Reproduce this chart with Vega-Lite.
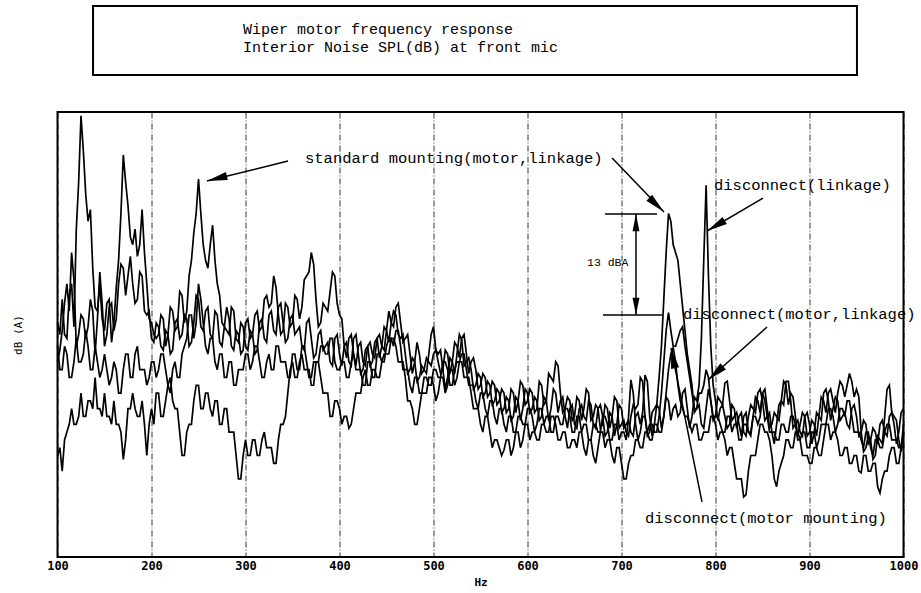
{
  "$schema": "https://vega.github.io/schema/vega-lite/v6.json",
  "width": 846,
  "height": 445,
  "autosize": {"type": "none"},
  "padding": {"left": 57.5, "top": 112, "right": 17.5, "bottom": 36},
  "background": "white",
  "config": {
    "view": {"stroke": "#000", "strokeWidth": 2},
    "font": "Liberation Mono"
  },
  "datasets": {
    "spectra": [
      {"f":100,"A":50,"B":45,"C":47,"D":33},
      {"f":102.5,"A":48.5,"B":46.5,"C":44,"D":34},
      {"f":105,"A":53,"B":49,"C":44,"D":31},
      {"f":107.5,"A":48.5,"B":52.5,"C":47,"D":35},
      {"f":110,"A":48,"B":55,"C":46,"D":36},
      {"f":112.5,"A":53.5,"B":51.5,"C":43,"D":37},
      {"f":115,"A":55,"B":59,"C":43,"D":39},
      {"f":117.5,"A":49.5,"B":55.5,"C":45,"D":37},
      {"f":120,"A":62,"B":47,"C":48,"D":37},
      {"f":122.5,"A":68,"B":48.5,"C":45,"D":38},
      {"f":125,"A":76.5,"B":51,"C":45,"D":41},
      {"f":127.5,"A":72,"B":50.5,"C":46,"D":38},
      {"f":130,"A":66.5,"B":48,"C":49,"D":38},
      {"f":132.5,"A":63,"B":49.5,"C":47,"D":40},
      {"f":135,"A":64.5,"B":53,"C":44,"D":40},
      {"f":137.5,"A":57,"B":51.5,"C":44,"D":39},
      {"f":140,"A":52,"B":46,"C":47,"D":43},
      {"f":142.5,"A":51.5,"B":50.5,"C":45,"D":39},
      {"f":145,"A":55,"B":56.5,"C":43,"D":39},
      {"f":147.5,"A":50.5,"B":52.5,"C":44,"D":38},
      {"f":150,"A":49,"B":47,"C":46,"D":41},
      {"f":152.5,"A":52.5,"B":48.5,"C":44,"D":38},
      {"f":155,"A":53,"B":52,"C":42,"D":38},
      {"f":157.5,"A":47.5,"B":52.5,"C":43,"D":37},
      {"f":160,"A":50,"B":49,"C":45,"D":40},
      {"f":162.5,"A":54.5,"B":50.5,"C":44,"D":37},
      {"f":165,"A":58,"B":55,"C":41,"D":37},
      {"f":167.5,"A":64,"B":57.5,"C":41,"D":36},
      {"f":170,"A":71.5,"B":57,"C":44,"D":32.5},
      {"f":172.5,"A":68,"B":53.5,"C":46,"D":35},
      {"f":175,"A":65,"B":56,"C":46,"D":39},
      {"f":177.5,"A":61,"B":58.5,"C":43,"D":39},
      {"f":180,"A":60,"B":55,"C":43,"D":41},
      {"f":182.5,"A":62,"B":52.5,"C":46,"D":39},
      {"f":185,"A":58.5,"B":53,"C":47,"D":38},
      {"f":187.5,"A":60,"B":56.5,"C":44,"D":38},
      {"f":190,"A":64.5,"B":56,"C":44,"D":40},
      {"f":192.5,"A":59,"B":51.5,"C":44,"D":37},
      {"f":195,"A":55,"B":51,"C":42,"D":33},
      {"f":197.5,"A":50.5,"B":51.5,"C":43,"D":37},
      {"f":200,"A":50,"B":48,"C":45,"D":39},
      {"f":202.5,"A":48.5,"B":47.5,"C":45,"D":37},
      {"f":205,"A":48,"B":50,"C":43,"D":41},
      {"f":207.5,"A":48.5,"B":49.5,"C":44,"D":41},
      {"f":210,"A":51,"B":47,"C":46,"D":38},
      {"f":212.5,"A":50.5,"B":46.5,"C":46,"D":38},
      {"f":215,"A":47,"B":49,"C":44,"D":40},
      {"f":217.5,"A":48.5,"B":48.5,"C":42,"D":42},
      {"f":220,"A":52,"B":46,"C":41,"D":43},
      {"f":222.5,"A":51.5,"B":46.5,"C":44,"D":40},
      {"f":225,"A":49,"B":50,"C":45,"D":39},
      {"f":227.5,"A":49.5,"B":50.5,"C":43,"D":39},
      {"f":230,"A":54,"B":48,"C":43,"D":36},
      {"f":232.5,"A":53.5,"B":48.5,"C":46,"D":33},
      {"f":235,"A":50,"B":51,"C":47,"D":33},
      {"f":237.5,"A":51.5,"B":50.5,"C":48,"D":36},
      {"f":240,"A":56,"B":47,"C":51,"D":37},
      {"f":242.5,"A":58,"B":47.5,"C":51,"D":37},
      {"f":245,"A":61.5,"B":50,"C":48,"D":40},
      {"f":247.5,"A":64,"B":53.5,"C":50,"D":42},
      {"f":250,"A":68.4,"B":53,"C":55,"D":42},
      {"f":252.5,"A":64,"B":49.5,"C":53,"D":39},
      {"f":255,"A":60,"B":49,"C":50,"D":39},
      {"f":257.5,"A":58,"B":51.5,"C":47,"D":41},
      {"f":260,"A":57,"B":52,"C":46,"D":41},
      {"f":262.5,"A":60,"B":48.5,"C":48,"D":39},
      {"f":265,"A":62.5,"B":48,"C":48,"D":38},
      {"f":267.5,"A":58,"B":51.5,"C":45,"D":40},
      {"f":270,"A":55,"B":51,"C":44,"D":40},
      {"f":272.5,"A":53.5,"B":47.5,"C":46,"D":37},
      {"f":275,"A":50,"B":47,"C":46,"D":37},
      {"f":277.5,"A":49.5,"B":49.5,"C":43,"D":39},
      {"f":280,"A":52,"B":49,"C":43,"D":39},
      {"f":282.5,"A":50.5,"B":48.5,"C":45,"D":36},
      {"f":285,"A":47,"B":52,"C":45,"D":36},
      {"f":287.5,"A":46.5,"B":51.5,"C":42,"D":36},
      {"f":290,"A":49,"B":48,"C":42,"D":33},
      {"f":292.5,"A":48.5,"B":47.5,"C":44,"D":30},
      {"f":295,"A":46,"B":50,"C":44,"D":30},
      {"f":297.5,"A":46.5,"B":49.5,"C":44,"D":33},
      {"f":300,"A":50,"B":47,"C":46,"D":35},
      {"f":302.5,"A":50.5,"B":46.5,"C":46,"D":33},
      {"f":305,"A":48,"B":49,"C":44,"D":33},
      {"f":307.5,"A":48.5,"B":48.5,"C":45,"D":35},
      {"f":310,"A":51,"B":46,"C":47,"D":35},
      {"f":312.5,"A":51.5,"B":46.5,"C":47,"D":33},
      {"f":315,"A":49,"B":50,"C":45,"D":33},
      {"f":317.5,"A":49.5,"B":50.5,"C":43,"D":35},
      {"f":320,"A":53,"B":48,"C":43,"D":36},
      {"f":322.5,"A":53.5,"B":47.5,"C":45,"D":34},
      {"f":325,"A":52,"B":51,"C":46,"D":34},
      {"f":327.5,"A":52.5,"B":51.5,"C":44,"D":34},
      {"f":330,"A":56,"B":49,"C":44,"D":32},
      {"f":332.5,"A":54.5,"B":48.5,"C":47,"D":32},
      {"f":335,"A":51,"B":52,"C":47,"D":35},
      {"f":337.5,"A":48.5,"B":52.5,"C":45,"D":37},
      {"f":340,"A":49,"B":50,"C":45,"D":37},
      {"f":342.5,"A":52.5,"B":47.5,"C":45,"D":38},
      {"f":345,"A":52,"B":48,"C":43,"D":41},
      {"f":347.5,"A":49.5,"B":50.5,"C":43,"D":44},
      {"f":350,"A":50,"B":51,"C":46,"D":45},
      {"f":352.5,"A":53.5,"B":48.5,"C":46,"D":43},
      {"f":355,"A":53,"B":49,"C":44,"D":43},
      {"f":357.5,"A":50.5,"B":49.5,"C":44,"D":45},
      {"f":360,"A":52,"B":47,"C":47,"D":46},
      {"f":362.5,"A":55.5,"B":46.5,"C":47,"D":44},
      {"f":365,"A":56,"B":50,"C":45,"D":44},
      {"f":367.5,"A":56.5,"B":50.5,"C":43,"D":44},
      {"f":370,"A":59,"B":48,"C":43,"D":42},
      {"f":372.5,"A":57.5,"B":45.5,"C":45,"D":42},
      {"f":375,"A":53,"B":46,"C":45,"D":45},
      {"f":377.5,"A":49.5,"B":48.5,"C":45,"D":45},
      {"f":380,"A":50,"B":49,"C":47,"D":43},
      {"f":382.5,"A":52.5,"B":46.5,"C":47,"D":41},
      {"f":385,"A":52,"B":47,"C":46,"D":41},
      {"f":387.5,"A":51.5,"B":47.5,"C":46,"D":41},
      {"f":390,"A":54,"B":45,"C":48,"D":38},
      {"f":392.5,"A":56.5,"B":44.5,"C":48,"D":38},
      {"f":395,"A":56,"B":48,"C":45,"D":40},
      {"f":397.5,"A":52.5,"B":48.5,"C":44,"D":40},
      {"f":400,"A":51,"B":46,"C":44,"D":39},
      {"f":402.5,"A":50.5,"B":44.5,"C":45,"D":37},
      {"f":405,"A":47,"B":47,"C":45,"D":38},
      {"f":407.5,"A":45.5,"B":47.5,"C":43,"D":38},
      {"f":410,"A":48,"B":45,"C":43,"D":36.5},
      {"f":412.5,"A":48.5,"B":44.5,"C":45,"D":37},
      {"f":415,"A":46,"B":48,"C":46,"D":39},
      {"f":417.5,"A":44.5,"B":48.5,"C":44,"D":41},
      {"f":420,"A":47,"B":46,"C":44,"D":41},
      {"f":422.5,"A":47.5,"B":43.5,"C":44,"D":41},
      {"f":425,"A":45,"B":44,"C":42,"D":43},
      {"f":427.5,"A":44.5,"B":46.5,"C":42,"D":44},
      {"f":430,"A":47,"B":47,"C":45,"D":42},
      {"f":432.5,"A":47.5,"B":44.5,"C":45,"D":42},
      {"f":435,"A":46,"B":45,"C":43,"D":44},
      {"f":437.5,"A":45.5,"B":47.5,"C":43,"D":44},
      {"f":440,"A":48,"B":48,"C":46,"D":43},
      {"f":442.5,"A":48.5,"B":45.5,"C":46,"D":43},
      {"f":445,"A":47,"B":47,"C":45,"D":45},
      {"f":447.5,"A":46.5,"B":49.5,"C":45,"D":46},
      {"f":450,"A":49,"B":49,"C":47,"D":46},
      {"f":452.5,"A":51.5,"B":47.5,"C":48,"D":46},
      {"f":455,"A":50,"B":50,"C":48,"D":48},
      {"f":457.5,"A":49.5,"B":51.5,"C":47,"D":48},
      {"f":460,"A":52,"B":51,"C":49,"D":47},
      {"f":462.5,"A":52.5,"B":48.5,"C":49,"D":45},
      {"f":465,"A":50,"B":48,"C":47,"D":45},
      {"f":467.5,"A":47.5,"B":48.5,"C":44,"D":45},
      {"f":470,"A":48,"B":46,"C":44,"D":43},
      {"f":472.5,"A":48.5,"B":43.5,"C":44,"D":40},
      {"f":475,"A":46,"B":44,"C":42,"D":40},
      {"f":477.5,"A":43.5,"B":45.5,"C":41,"D":39},
      {"f":480,"A":45,"B":45,"C":43,"D":37},
      {"f":482.5,"A":47.5,"B":42.5,"C":43,"D":37},
      {"f":485,"A":46,"B":43,"C":41,"D":39},
      {"f":487.5,"A":43.5,"B":44.5,"C":41,"D":41},
      {"f":490,"A":44,"B":44,"C":43,"D":41},
      {"f":492.5,"A":45.5,"B":43.5,"C":43,"D":41},
      {"f":495,"A":45,"B":46,"C":42,"D":43},
      {"f":497.5,"A":44.5,"B":48.5,"C":42,"D":43},
      {"f":500,"A":46,"B":49.5,"C":44,"D":42},
      {"f":502.5,"A":46.5,"B":46.5,"C":44,"D":40},
      {"f":505,"A":45,"B":46,"C":43,"D":41},
      {"f":507.5,"A":43.5,"B":46.5,"C":43,"D":43},
      {"f":510,"A":44,"B":44,"C":45,"D":43},
      {"f":512.5,"A":46.5,"B":41.5,"C":45,"D":41},
      {"f":515,"A":46,"B":43,"C":44,"D":42},
      {"f":517.5,"A":43.5,"B":45.5,"C":42,"D":44},
      {"f":520,"A":45,"B":45,"C":42,"D":44},
      {"f":522.5,"A":47.5,"B":43.5,"C":44,"D":42},
      {"f":525,"A":47,"B":46,"C":45,"D":43},
      {"f":527.5,"A":45.5,"B":48.5,"C":45,"D":45},
      {"f":530,"A":48,"B":47.8,"C":46,"D":45},
      {"f":532.5,"A":48.5,"B":44.5,"C":46,"D":43},
      {"f":535,"A":46,"B":45,"C":44,"D":43},
      {"f":537.5,"A":43.5,"B":45.5,"C":42,"D":43},
      {"f":540,"A":45,"B":44,"C":42,"D":41},
      {"f":542.5,"A":45.5,"B":41.5,"C":42,"D":39},
      {"f":545,"A":44,"B":42,"C":40,"D":39},
      {"f":547.5,"A":41.5,"B":43.5,"C":39,"D":39},
      {"f":550,"A":42,"B":43,"C":41,"D":37},
      {"f":552.5,"A":43.5,"B":40.5,"C":41,"D":36},
      {"f":555,"A":43,"B":41,"C":39,"D":38},
      {"f":557.5,"A":40.5,"B":42.5,"C":38,"D":38},
      {"f":560,"A":41,"B":42,"C":40,"D":36},
      {"f":562.5,"A":42.5,"B":39.5,"C":40,"D":34},
      {"f":565,"A":42,"B":40,"C":38,"D":35},
      {"f":567.5,"A":39.5,"B":41.5,"C":37,"D":35},
      {"f":570,"A":40,"B":41,"C":39,"D":34},
      {"f":572.5,"A":41.5,"B":38.5,"C":39,"D":33},
      {"f":575,"A":41,"B":39,"C":37,"D":33.7},
      {"f":577.5,"A":38.5,"B":40.5,"C":36,"D":35},
      {"f":580,"A":39,"B":40,"C":38,"D":35},
      {"f":582.5,"A":41.5,"B":37.5,"C":38,"D":33},
      {"f":585,"A":41,"B":38,"C":36,"D":34},
      {"f":587.5,"A":38.5,"B":40.5,"C":36,"D":36},
      {"f":590,"A":40,"B":40,"C":38,"D":36},
      {"f":592.5,"A":42.5,"B":37.5,"C":38,"D":34},
      {"f":595,"A":42,"B":39,"C":37,"D":35},
      {"f":597.5,"A":39.5,"B":41.5,"C":37,"D":37},
      {"f":600,"A":40,"B":41,"C":39,"D":37},
      {"f":602.5,"A":41.5,"B":38.5,"C":39,"D":35},
      {"f":605,"A":41,"B":39,"C":38,"D":36},
      {"f":607.5,"A":38.5,"B":40.5,"C":36,"D":36},
      {"f":610,"A":39,"B":40,"C":37,"D":35},
      {"f":612.5,"A":42.5,"B":37.5,"C":39,"D":35},
      {"f":615,"A":42,"B":38,"C":39,"D":37},
      {"f":617.5,"A":39.5,"B":40.5,"C":37,"D":37},
      {"f":620,"A":40,"B":40,"C":38,"D":36},
      {"f":622.5,"A":43.5,"B":37.5,"C":38,"D":36},
      {"f":625,"A":43,"B":39,"C":36,"D":38},
      {"f":627.5,"A":42.5,"B":41.5,"C":36,"D":38},
      {"f":630,"A":45,"B":41,"C":38,"D":37},
      {"f":632.5,"A":44.5,"B":38.5,"C":38,"D":35},
      {"f":635,"A":41,"B":40,"C":37,"D":35},
      {"f":637.5,"A":38.5,"B":40.5,"C":37,"D":36},
      {"f":640,"A":39,"B":38,"C":39,"D":36},
      {"f":642.5,"A":40.5,"B":36.5,"C":39,"D":34},
      {"f":645,"A":40,"B":39,"C":38,"D":34},
      {"f":647.5,"A":37.5,"B":39.5,"C":36,"D":35},
      {"f":650,"A":38,"B":37,"C":36,"D":35},
      {"f":652.5,"A":40.5,"B":36.5,"C":38,"D":34},
      {"f":655,"A":40,"B":39,"C":38,"D":36},
      {"f":657.5,"A":37.5,"B":39.5,"C":36,"D":36},
      {"f":660,"A":39,"B":38,"C":37,"D":34},
      {"f":662.5,"A":41.5,"B":37.5,"C":37,"D":33},
      {"f":665,"A":41,"B":40,"C":35,"D":35},
      {"f":667.5,"A":37.5,"B":39.5,"C":35,"D":35},
      {"f":670,"A":38,"B":37,"C":37,"D":33},
      {"f":672.5,"A":39.5,"B":36.5,"C":37,"D":32},
      {"f":675,"A":39,"B":39,"C":36,"D":34},
      {"f":677.5,"A":36.5,"B":39.5,"C":36,"D":36},
      {"f":680,"A":37,"B":38,"C":38,"D":36},
      {"f":682.5,"A":39.5,"B":35.5,"C":38,"D":34},
      {"f":685,"A":39,"B":36,"C":37,"D":35},
      {"f":687.5,"A":36.5,"B":38.5,"C":35,"D":35},
      {"f":690,"A":38,"B":38,"C":35,"D":33},
      {"f":692.5,"A":40.5,"B":35.5,"C":37,"D":32},
      {"f":695,"A":40,"B":37,"C":37,"D":34},
      {"f":697.5,"A":36.5,"B":39.5,"C":35,"D":34},
      {"f":700,"A":37,"B":39,"C":36,"D":32},
      {"f":702.5,"A":37.5,"B":36.5,"C":36,"D":30},
      {"f":705,"A":36,"B":37,"C":35,"D":30},
      {"f":707.5,"A":35.5,"B":37.5,"C":38,"D":32},
      {"f":710,"A":38,"B":36,"C":42.7,"D":33},
      {"f":712.5,"A":39.5,"B":35.5,"C":41,"D":33},
      {"f":715,"A":39,"B":38,"C":37,"D":35},
      {"f":717.5,"A":39.5,"B":38.5,"C":35,"D":35},
      {"f":720,"A":43,"B":37,"C":36,"D":34},
      {"f":722.5,"A":42.5,"B":38.5,"C":38,"D":34},
      {"f":725,"A":38,"B":43.3,"C":38,"D":36},
      {"f":727.5,"A":35.5,"B":42.5,"C":36,"D":36},
      {"f":730,"A":36,"B":38,"C":37,"D":35},
      {"f":732.5,"A":38.5,"B":35.5,"C":37,"D":35},
      {"f":735,"A":39,"B":37,"C":36,"D":37},
      {"f":737.5,"A":39.5,"B":39.5,"C":36,"D":37},
      {"f":740,"A":43,"B":39,"C":38,"D":36},
      {"f":742.5,"A":47,"B":36.5,"C":41,"D":36},
      {"f":745,"A":53,"B":38,"C":45,"D":38},
      {"f":747.5,"A":59,"B":40.5,"C":49,"D":41},
      {"f":750,"A":64,"B":40,"C":51.3,"D":44},
      {"f":752.5,"A":63,"B":37.5,"C":49,"D":46},
      {"f":755,"A":60,"B":39,"C":47,"D":46.8},
      {"f":757.5,"A":59,"B":39.5,"C":47,"D":45},
      {"f":760,"A":58,"B":38,"C":48,"D":42},
      {"f":762.5,"A":55,"B":38.5,"C":49,"D":40},
      {"f":765,"A":52,"B":41,"C":49.5,"D":39},
      {"f":767.5,"A":49,"B":41.5,"C":47,"D":38},
      {"f":770,"A":46,"B":39,"C":45,"D":38},
      {"f":772.5,"A":44,"B":36.5,"C":43,"D":37},
      {"f":775,"A":42,"B":38,"C":41,"D":36},
      {"f":777.5,"A":38.5,"B":40.5,"C":39,"D":37},
      {"f":780,"A":39,"B":40,"C":39,"D":37},
      {"f":782.5,"A":39.5,"B":42,"C":41,"D":35},
      {"f":785,"A":37,"B":48,"C":41,"D":35},
      {"f":787.5,"A":36.5,"B":58,"C":42,"D":36},
      {"f":790,"A":39,"B":67.6,"C":44,"D":36},
      {"f":792.5,"A":41.5,"B":56,"C":43,"D":36},
      {"f":795,"A":40,"B":47,"C":40,"D":38},
      {"f":797.5,"A":37.5,"B":42,"C":38,"D":38},
      {"f":800,"A":38,"B":40,"C":38,"D":37},
      {"f":802.5,"A":40.5,"B":37.5,"C":38,"D":35},
      {"f":805,"A":40,"B":39,"C":37,"D":36},
      {"f":807.5,"A":39.5,"B":39.5,"C":36,"D":36},
      {"f":810,"A":42.3,"B":38,"C":36,"D":35},
      {"f":812.5,"A":42.5,"B":36.5,"C":38,"D":33},
      {"f":815,"A":40,"B":37,"C":38,"D":34},
      {"f":817.5,"A":37.5,"B":39.5,"C":36,"D":34},
      {"f":820,"A":38,"B":39,"C":37,"D":32},
      {"f":822.5,"A":38.5,"B":36.5,"C":37,"D":30},
      {"f":825,"A":37,"B":38,"C":35,"D":30},
      {"f":827.5,"A":35.5,"B":38.5,"C":35,"D":30},
      {"f":830,"A":38,"B":36,"C":37,"D":27.7},
      {"f":832.5,"A":38.5,"B":35.5,"C":37,"D":28},
      {"f":835,"A":36,"B":38,"C":36,"D":31},
      {"f":837.5,"A":35.5,"B":39.5,"C":36,"D":33},
      {"f":840,"A":38,"B":39,"C":38,"D":33},
      {"f":842.5,"A":40.5,"B":38.5,"C":38,"D":33},
      {"f":845,"A":40,"B":41,"C":37,"D":35},
      {"f":847.5,"A":38.5,"B":41.5,"C":38,"D":37},
      {"f":850,"A":41,"B":40,"C":41,"D":37},
      {"f":852.5,"A":41.5,"B":37.5,"C":40,"D":36},
      {"f":855,"A":39,"B":38,"C":38,"D":36},
      {"f":857.5,"A":36.5,"B":38.5,"C":36,"D":35},
      {"f":860,"A":37,"B":36,"C":36,"D":33},
      {"f":862.5,"A":38.5,"B":34.5,"C":36,"D":30},
      {"f":865,"A":38,"B":37,"C":35,"D":29},
      {"f":867.5,"A":37.5,"B":39.5,"C":35,"D":31},
      {"f":870,"A":40,"B":40,"C":37,"D":32},
      {"f":872.5,"A":42.5,"B":39.5,"C":37,"D":33},
      {"f":875,"A":42,"B":42.5,"C":36,"D":35},
      {"f":877.5,"A":39.5,"B":42.5,"C":36,"D":35},
      {"f":880,"A":41,"B":40,"C":38,"D":34},
      {"f":882.5,"A":40.5,"B":36.5,"C":38,"D":34},
      {"f":885,"A":38,"B":37,"C":37,"D":36},
      {"f":887.5,"A":35.5,"B":37.5,"C":35,"D":36},
      {"f":890,"A":37,"B":36,"C":35,"D":35},
      {"f":892.5,"A":38.5,"B":35.5,"C":36,"D":33},
      {"f":895,"A":38,"B":38,"C":36,"D":33},
      {"f":897.5,"A":35.5,"B":38.5,"C":34,"D":33},
      {"f":900,"A":36,"B":37,"C":34,"D":32},
      {"f":902.5,"A":37.5,"B":34.5,"C":36,"D":32},
      {"f":905,"A":37,"B":36,"C":36,"D":34},
      {"f":907.5,"A":35.5,"B":38.5,"C":34,"D":34},
      {"f":910,"A":38,"B":38,"C":35,"D":33},
      {"f":912.5,"A":40.5,"B":37.5,"C":37,"D":33},
      {"f":915,"A":40,"B":41,"C":37,"D":35},
      {"f":917.5,"A":38.5,"B":41.5,"C":37,"D":37},
      {"f":920,"A":41,"B":40,"C":39,"D":37},
      {"f":922.5,"A":41.5,"B":37.5,"C":39,"D":35},
      {"f":925,"A":40,"B":39,"C":38,"D":36},
      {"f":927.5,"A":38.5,"B":40.5,"C":36,"D":36},
      {"f":930,"A":41,"B":40,"C":37,"D":35},
      {"f":932.5,"A":42.5,"B":37.5,"C":39,"D":33},
      {"f":935,"A":42,"B":38,"C":39,"D":33},
      {"f":937.5,"A":40.5,"B":38.5,"C":38,"D":34},
      {"f":940,"A":42,"B":37,"C":40,"D":34},
      {"f":942.5,"A":43.5,"B":36.5,"C":40,"D":32},
      {"f":945,"A":42.5,"B":39,"C":38,"D":32},
      {"f":947.5,"A":40.5,"B":39.5,"C":36,"D":33},
      {"f":950,"A":41.5,"B":38,"C":36,"D":33},
      {"f":952.5,"A":40.5,"B":35.5,"C":36,"D":31},
      {"f":955,"A":36,"B":36,"C":35,"D":30.8},
      {"f":957.5,"A":33.5,"B":37.5,"C":34,"D":33},
      {"f":960,"A":34,"B":37,"C":36,"D":33},
      {"f":962.5,"A":35.5,"B":34.5,"C":36,"D":31},
      {"f":965,"A":35,"B":35,"C":34,"D":31},
      {"f":967.5,"A":32.5,"B":36.5,"C":33,"D":32},
      {"f":970,"A":33,"B":36,"C":35,"D":32},
      {"f":972.5,"A":35.5,"B":34.5,"C":35,"D":29},
      {"f":975,"A":35,"B":37,"C":34,"D":28.2},
      {"f":977.5,"A":34.5,"B":37.5,"C":34,"D":30},
      {"f":980,"A":38,"B":36,"C":36,"D":31},
      {"f":982.5,"A":41.5,"B":35.5,"C":37,"D":31},
      {"f":985,"A":42,"B":38,"C":37,"D":33},
      {"f":987.5,"A":38.5,"B":38.5,"C":35,"D":34},
      {"f":990,"A":38,"B":37,"C":35,"D":34},
      {"f":992.5,"A":37.5,"B":34.5,"C":35,"D":32},
      {"f":995,"A":35,"B":36,"C":34,"D":32},
      {"f":997.5,"A":33.5,"B":38.5,"C":34,"D":34},
      {"f":1000,"A":36,"B":39,"C":37,"D":34}
    ],
    "titlebox": [{"x": 137.8, "x2": 950.5, "y": 90.58, "y2": 81.74}],
    "titlelines": [
      {"x": 297.3, "y": 87.57, "t": "Wiper motor frequency response"},
      {"x": 297.3, "y": 85.33, "t": "Interior Noise SPL(dB) at front mic"}
    ],
    "shafts": [
      {"x": 345.2, "y": 70.72, "x2": 259.0, "y2": 68.16},
      {"x": 690.0, "y": 71.1, "x2": 745.2, "y2": 64.19},
      {"x": 850.5, "y": 65.98, "x2": 791.0, "y2": 61.76},
      {"x": 854.8, "y": 49.46, "x2": 792.0, "y2": 42.67},
      {"x": 785.6, "y": 27.05, "x2": 752.7, "y2": 46.77},
      {"x": 682.4, "y": 63.93, "x2": 737.8, "y2": 63.93},
      {"x": 680.3, "y": 51.0, "x2": 743.1, "y2": 51.0},
      {"x": 715.4, "y": 63.93, "x2": 715.4, "y2": 51.0}
    ],
    "heads": [
      {"x": 259.0, "y": 68.16, "dir": -103.9},
      {"x": 745.2, "y": 64.19, "dir": 134},
      {"x": 791.0, "y": 61.76, "dir": -120.5},
      {"x": 792.0, "y": 42.67, "dir": -131.9},
      {"x": 752.7, "y": 46.77, "dir": -11.4}
    ],
    "dimheads": [
      {"x": 715.4, "y": 63.93, "dir": 0},
      {"x": 715.4, "y": 51.0, "dir": 180}
    ],
    "labels": [
      {"x": 363.3, "y": 71.1, "t": "standard mounting(motor,linkage)"},
      {"x": 798.4, "y": 67.65, "t": "disconnect(linkage)"},
      {"x": 765.4, "y": 51.13, "t": "disconnect(motor,linkage)"},
      {"x": 725.0, "y": 25.0, "t": "disconnect(motor mounting)"}
    ],
    "dimlabel": [{"x": 663.3, "y": 57.66, "t": "13 dBA"}]
  },
  "layer": [
    {
      "data": {"name": "spectra"},
      "transform": [{"fold": ["A", "B", "C", "D"], "as": ["series", "dB"]}],
      "mark": {"type": "line", "color": "#000", "strokeWidth": 1.7},
      "encoding": {
        "x": {
          "field": "f", "type": "quantitative",
          "scale": {"domain": [100, 1000], "nice": false, "zero": false},
          "axis": {
            "values": [100, 200, 300, 400, 500, 600, 700, 800, 900, 1000],
            "format": "d",
            "grid": true, "gridColor": "#000", "gridDash": [6, 2, 1, 2], "gridWidth": 0.8,
            "ticks": false, "domain": false, "labelFlush": false,
            "labelFont": "DejaVu Sans Mono", "labelFontSize": 12, "labelFontWeight": "bold",
            "labelColor": "#000", "labelPadding": 3,
            "title": "Hz", "titleFont": "DejaVu Sans Mono", "titleFontSize": 11,
            "titleFontWeight": "bold", "titleColor": "#000", "titlePadding": 5
          }
        },
        "y": {
          "field": "dB", "type": "quantitative",
          "scale": {"domain": [20, 77], "nice": false, "zero": false},
          "axis": {
            "labels": false, "ticks": false, "domain": false, "grid": false,
            "title": "dB (A)", "titleFont": "DejaVu Sans Mono", "titleFontSize": 11,
            "titleFontWeight": "normal", "titleColor": "#000", "titlePadding": 34
          }
        },
        "detail": {"field": "series", "type": "nominal"}
      }
    },
    {
      "data": {"name": "titlebox"},
      "mark": {"type": "rect", "fill": "white", "stroke": "#000", "strokeWidth": 2},
      "encoding": {
        "x": {"field": "x", "type": "quantitative"},
        "x2": {"field": "x2"},
        "y": {"field": "y", "type": "quantitative"},
        "y2": {"field": "y2"}
      }
    },
    {
      "data": {"name": "titlelines"},
      "mark": {"type": "text", "align": "left", "baseline": "middle", "font": "Liberation Mono", "fontSize": 15, "color": "#000"},
      "encoding": {
        "x": {"field": "x", "type": "quantitative"},
        "y": {"field": "y", "type": "quantitative"},
        "text": {"field": "t"}
      }
    },
    {
      "data": {"name": "shafts"},
      "mark": {"type": "rule", "color": "#000", "strokeWidth": 1.5},
      "encoding": {
        "x": {"field": "x", "type": "quantitative"},
        "y": {"field": "y", "type": "quantitative"},
        "x2": {"field": "x2"},
        "y2": {"field": "y2"}
      }
    },
    {
      "data": {"name": "heads"},
      "mark": {"type": "point", "shape": "M0,0L0.4,2L-0.4,2Z", "filled": true, "opacity": 1, "color": "#000", "size": 420},
      "encoding": {
        "x": {"field": "x", "type": "quantitative"},
        "y": {"field": "y", "type": "quantitative"},
        "angle": {"field": "dir", "type": "quantitative", "scale": null}
      }
    },
    {
      "data": {"name": "dimheads"},
      "mark": {"type": "point", "shape": "M0,0L0.4,2L-0.4,2Z", "filled": true, "opacity": 1, "color": "#000", "size": 300},
      "encoding": {
        "x": {"field": "x", "type": "quantitative"},
        "y": {"field": "y", "type": "quantitative"},
        "angle": {"field": "dir", "type": "quantitative", "scale": null}
      }
    },
    {
      "data": {"name": "labels"},
      "mark": {"type": "text", "align": "left", "baseline": "middle", "font": "Liberation Mono", "fontSize": 15.5, "color": "#000"},
      "encoding": {
        "x": {"field": "x", "type": "quantitative"},
        "y": {"field": "y", "type": "quantitative"},
        "text": {"field": "t"}
      }
    },
    {
      "data": {"name": "dimlabel"},
      "mark": {"type": "text", "align": "left", "baseline": "middle", "font": "Liberation Mono", "fontSize": 11.5, "color": "#000"},
      "encoding": {
        "x": {"field": "x", "type": "quantitative"},
        "y": {"field": "y", "type": "quantitative"},
        "text": {"field": "t"}
      }
    }
  ]
}
